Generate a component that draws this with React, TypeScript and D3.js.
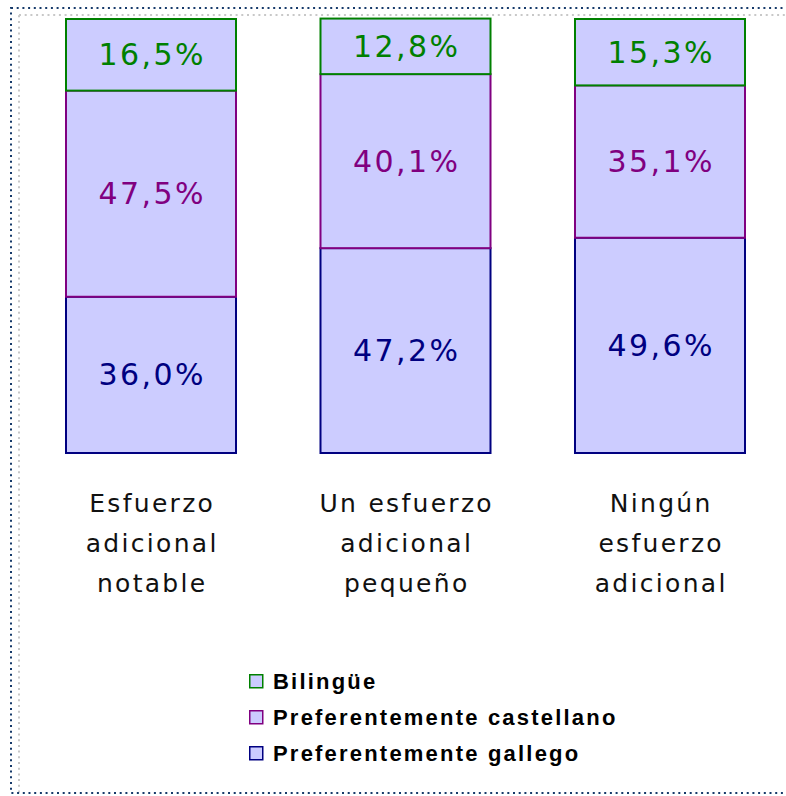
import React from 'react';
import * as d3 from 'd3';

const categories = ['notable', 'pequeno', 'ninguno'];
const categoryLines = [
  ['Esfuerzo', 'adicional', 'notable'],
  ['Un esfuerzo', 'adicional', 'pequeño'],
  ['Ningún', 'esfuerzo', 'adicional'],
];
const gallego = [36.0, 47.2, 49.6];
const castellano = [47.5, 40.1, 35.1];
const bilingue = [16.5, 12.8, 15.3];

const seriesKeys = ['gallego', 'castellano', 'bilingue'];
const seriesNames = ['Preferentemente gallego', 'Preferentemente castellano', 'Bilingüe'];
const seriesColors = ['#000080', '#800080', '#008000'];

const W = 786;
const H = 796;

const fmt = (v: number) => d3.format('.1f')(v).replace('.', ',') + '%';

export default function App() {
  const rows = categories.map((c, i) => ({
    cat: c,
    gallego: gallego[i],
    castellano: castellano[i],
    bilingue: bilingue[i],
  }));
  const stacked = d3.stack<any>().keys(seriesKeys)(rows);

  const x = d3.scaleBand().domain(categories).range([66, 745]).paddingInner(0.332).paddingOuter(0);
  const y = d3.scaleLinear().domain([0, 100]).range([453, 19]);

  // legend reads top-down: bilingüe first
  const legendOrder = [2, 1, 0];

  return (
    <svg width={W} height={H} style={{ position: 'absolute', left: 0, top: 0 }}>
      <rect x={0} y={0} width={W} height={H} fill="#fff" />
      {/* frames */}
      <rect x={19} y={15} width={800} height={800} fill="none" stroke="#c8c8c8"
        strokeWidth={2} strokeDasharray="2 3.7" />
      <rect x={11} y={8} width={800} height={785} fill="none" stroke="#163a6a"
        strokeWidth={2} strokeDasharray="2 3.7" />

      {stacked.map((s, si) => (
        <g key={s.key}>
          {s.map((d, i) => {
            const x0 = x(categories[i])!;
            const top = y(d[1]);
            const bot = y(d[0]);
            return (
              <g key={i}>
                <rect x={x0} y={top} width={x.bandwidth()} height={bot - top}
                  fill="#ccccff" stroke={seriesColors[si]} strokeWidth={2} />
                <text x={x0 + x.bandwidth() / 2 + 1.2} y={(top + bot) / 2} textAnchor="middle"
                  dominantBaseline="central" fill={seriesColors[si]}
                  style={{ fontFamily: 'DejaVu Sans', fontSize: 30, letterSpacing: 2.4 }}>
                  {fmt(d[1] - d[0])}
                </text>
              </g>
            );
          })}
        </g>
      ))}

      {categoryLines.map((lines, i) => (
        <text key={i} textAnchor="middle" fill="#111"
          style={{ fontFamily: 'DejaVu Sans', fontSize: 25, letterSpacing: 2.3 }}>
          {lines.map((l, j) => (
            <tspan key={j} x={x(categories[i])! + x.bandwidth() / 2 + 1.2} y={512 + j * 40}>{l}</tspan>
          ))}
        </text>
      ))}

      <g transform="translate(249,674)">
        {legendOrder.map((si, k) => (
          <g key={si} transform={`translate(0,${k * 36})`}>
            <rect x={0.75} y={0.75} width={13} height={13} fill="#ccccff"
              stroke={seriesColors[si]} strokeWidth={1.5} />
            <text x={24} y={15} fill="#000"
              style={{ fontFamily: 'Liberation Sans', fontWeight: 700, fontSize: 22, letterSpacing: 2.2 }}>
              {seriesNames[si]}
            </text>
          </g>
        ))}
      </g>
    </svg>
  );
}
